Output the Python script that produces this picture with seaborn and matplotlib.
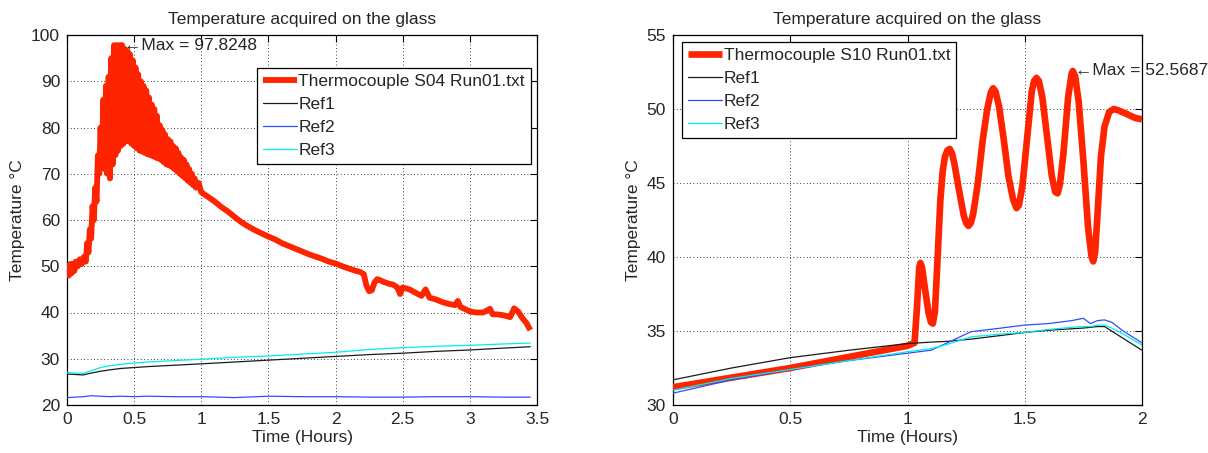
import matplotlib
matplotlib.use("Agg")
import matplotlib.pyplot as plt
import seaborn as sns
import pandas as pd

# ---------------- data ----------------
title_text = "Temperature acquired on the glass"
xlabel_text = "Time (Hours)"
ylabel_text = "Temperature °C"

# Left panel: Thermocouple S04
s04_time = [0.000, 0.005, 0.015, 0.025, 0.035, 0.045, 0.055, 0.065, 0.080, 0.095,
            0.110, 0.125, 0.140, 0.150, 0.160, 0.170, 0.180, 0.190, 0.200, 0.210,
            0.220, 0.230, 0.240, 0.250, 0.260, 0.270, 0.280, 0.290, 0.300, 0.310,
            0.320, 0.330, 0.340, 0.350, 0.360, 0.370, 0.380, 0.390, 0.400, 0.410,
            0.420, 0.430, 0.440, 0.450, 0.460, 0.470, 0.480, 0.490, 0.500, 0.510,
            0.520, 0.530, 0.540, 0.550, 0.560, 0.570, 0.580, 0.590, 0.600, 0.610,
            0.620, 0.630, 0.640, 0.650, 0.660, 0.670, 0.680, 0.690, 0.700, 0.710,
            0.720, 0.730, 0.740, 0.750, 0.760, 0.770, 0.780, 0.790, 0.800, 0.810,
            0.820, 0.830, 0.840, 0.850, 0.860, 0.870, 0.880, 0.890, 0.900, 0.910,
            0.920, 0.930, 0.940, 0.950, 0.960, 0.980, 1.000,
            1.05, 1.10, 1.15, 1.20, 1.25, 1.30, 1.35, 1.40, 1.45, 1.50, 1.55, 1.60,
            1.65, 1.70, 1.75, 1.80, 1.85, 1.90, 1.95, 2.00, 2.05, 2.10, 2.15, 2.18,
            2.21, 2.23, 2.25, 2.27, 2.29, 2.31, 2.33, 2.36, 2.40, 2.43, 2.46, 2.48,
            2.50, 2.55, 2.60, 2.64, 2.67, 2.70, 2.75, 2.80, 2.85, 2.89, 2.91, 2.93,
            2.96, 3.00, 3.05, 3.10, 3.15, 3.17, 3.20, 3.25, 3.30, 3.33, 3.36, 3.39,
            3.42, 3.45]
s04_temp = [47.5, 50.0, 48.0, 50.5, 48.5, 50.5, 49.0, 51.0, 50.0, 51.5,
            50.5, 52.0, 51.0, 55.0, 53.0, 58.0, 56.0, 63.0, 60.0, 67.0,
            64.0, 74.0, 70.0, 80.0, 72.0, 86.0, 71.0, 89.0, 70.0, 91.0,
            69.0, 95.0, 72.0, 97.8, 74.0, 97.8, 75.0, 97.8, 76.0, 97.8248,
            76.5, 97.0, 77.0, 96.5, 77.0, 95.8, 76.5, 94.5, 76.0, 93.0,
            75.5, 91.5, 75.0, 90.0, 74.8, 89.0, 74.5, 88.0, 74.2, 86.5,
            74.0, 85.0, 73.8, 84.0, 73.5, 82.5, 73.3, 80.5, 73.0, 79.5,
            72.5, 78.5, 72.0, 77.5, 71.8, 77.0, 71.5, 76.0, 71.0, 75.5,
            70.5, 74.5, 70.0, 73.5, 69.5, 73.0, 69.0, 72.0, 68.5, 71.0,
            68.0, 70.0, 67.5, 69.0, 67.0, 68.0, 66.0,
            65.0, 64.0, 62.8, 61.8, 60.6, 59.5, 58.6, 57.8, 57.1, 56.4, 55.8, 55.0,
            54.4, 53.8, 53.2, 52.6, 52.1, 51.6, 51.0, 50.6, 50.0, 49.5, 49.0, 48.8,
            48.3, 45.8, 44.6, 44.8, 46.5, 47.2, 47.0, 46.6, 46.2, 46.0, 45.4, 44.0,
            45.4, 45.0, 44.2, 43.6, 45.0, 43.2, 42.8, 42.2, 41.8, 41.6, 42.5, 41.2,
            40.8, 40.2, 40.0, 40.0, 40.8, 39.6, 39.6, 39.4, 39.0, 40.9, 40.2, 38.8,
            37.8, 36.2]

ref_l_time = [0.00, 0.06, 0.12, 0.18, 0.25, 0.32, 0.40, 0.50, 0.60, 0.80, 1.00,
              1.25, 1.50, 1.75, 2.00, 2.25, 2.50, 2.75, 3.00, 3.25, 3.45]
ref1_l = [26.7, 26.6, 26.5, 26.9, 27.3, 27.6, 27.9, 28.1, 28.3, 28.6, 28.9,
          29.3, 29.7, 30.1, 30.5, 30.9, 31.2, 31.6, 31.9, 32.3, 32.6]
ref2_l = [21.6, 21.7, 21.8, 22.0, 21.9, 21.8, 21.9, 21.8, 21.9, 21.8, 21.8,
          21.6, 21.9, 21.8, 21.8, 21.7, 21.7, 21.8, 21.8, 21.7, 21.7]
ref3_l = [27.0, 26.9, 26.8, 27.4, 28.1, 28.5, 28.8, 29.1, 29.3, 29.6, 29.9,
          30.3, 30.6, 31.0, 31.4, 32.0, 32.4, 32.7, 32.9, 33.2, 33.4]

# Right panel: Thermocouple S10
s10_time = [0.00, 0.25, 0.50, 0.75, 1.00, 1.03, 1.04, 1.05, 1.055, 1.062, 1.075,
            1.09, 1.10, 1.108, 1.117, 1.13, 1.14, 1.15, 1.16, 1.17, 1.18, 1.19,
            1.20, 1.22, 1.24, 1.25, 1.26, 1.27, 1.28, 1.30, 1.32, 1.34, 1.355,
            1.365, 1.375, 1.39, 1.41, 1.43, 1.45, 1.465, 1.475, 1.49, 1.51, 1.53,
            1.54, 1.55, 1.56, 1.575, 1.60, 1.615, 1.63, 1.64, 1.65, 1.665, 1.685,
            1.70, 1.705, 1.715, 1.73, 1.75, 1.77, 1.785, 1.792, 1.80, 1.81, 1.825,
            1.84, 1.86, 1.88, 1.90, 1.93, 1.97, 2.00]
s10_temp = [31.2, 31.85, 32.5, 33.25, 34.0, 34.2, 36.5, 39.3, 39.6, 39.3, 37.8,
            36.2, 35.6, 35.5, 36.3, 40.5, 43.8, 45.8, 46.8, 47.2, 47.3, 47.0,
            46.3, 44.5, 42.8, 42.3, 42.1, 42.3, 42.9, 45.0, 47.8, 50.0, 51.1,
            51.4, 51.2, 50.2, 48.0, 45.5, 43.9, 43.3, 43.5, 44.8, 48.0, 51.2,
            51.9, 52.1, 51.9, 50.8, 47.5, 45.5, 44.4, 44.3, 44.9, 47.0, 50.8,
            52.4, 52.5687, 52.2, 50.5, 46.5, 42.0, 40.0, 39.7, 40.3, 42.8, 46.8,
            48.8, 49.8, 50.0, 49.9, 49.7, 49.4, 49.3]

ref_r_time = [0.00, 0.25, 0.50, 0.75, 1.00, 1.05, 1.10, 1.17, 1.27, 1.40, 1.50,
              1.60, 1.70, 1.75, 1.78, 1.81, 1.84, 1.87, 1.92, 2.00]
ref1_r = [31.7, 32.5, 33.2, 33.7, 34.15, 34.2, 34.25, 34.3, 34.45, 34.7, 34.9,
          35.05, 35.15, 35.2, 35.25, 35.3, 35.3, 35.0, 34.5, 33.7]
ref2_r = [30.8, 31.7, 32.4, 33.0, 33.5, 33.6, 33.7, 34.2, 34.95, 35.2, 35.4,
          35.5, 35.7, 35.86, 35.5, 35.7, 35.75, 35.6, 35.0, 34.2]
ref3_r = [31.0, 31.8, 32.4, 33.0, 33.6, 33.7, 33.8, 34.1, 34.6, 34.8, 34.9,
          35.1, 35.25, 35.3, 35.3, 35.4, 35.4, 35.2, 34.8, 34.05]

left_label = "Thermocouple S04 Run01.txt"
right_label = "Thermocouple S10 Run01.txt"
ref_labels = ["Ref1", "Ref2", "Ref3"]

left_xticks = [0, 0.5, 1, 1.5, 2, 2.5, 3, 3.5]
left_xticklabels = ["0", "0.5", "1", "1.5", "2", "2.5", "3", "3.5"]
left_yticks = [20, 30, 40, 50, 60, 70, 80, 90, 100]
right_xticks = [0, 0.5, 1, 1.5, 2]
right_xticklabels = ["0", "0.5", "1", "1.5", "2"]
right_yticks = [30, 35, 40, 45, 50, 55]

left_max_text = "←Max = 97.8248"
right_max_text = "←Max = 52.5687"
left_max_pos = (0.425, 97.8248)
right_max_pos = (1.715, 52.5687)

# ---------------- styling ----------------
sns.set_theme(style="white")
FONT = ["Liberation Sans", "DejaVu Sans"]
plt.rcParams["font.family"] = FONT
plt.rcParams["font.size"] = 12.5
plt.rcParams["path.simplify"] = False

RED = "#ff2400"
BLACK = "#1a1a1a"
BLUE = "#2e4cff"
CYAN = "#00eeee"
TXT = "#262626"

fig = plt.figure(figsize=(12.08, 4.53), dpi=100)
W, H = 1208, 453
ax_l = fig.add_axes([67 / W, (H - 405) / H, 470 / W, 370 / H])
ax_r = fig.add_axes([673 / W, (H - 405) / H, 469 / W, 370 / H])


def draw(ax, t, v, lab, rt, r1, r2, r3, red_lw):
    df_main = pd.DataFrame({"t": t, "v": v})
    sns.lineplot(data=df_main, x="t", y="v", ax=ax, color=RED, lw=red_lw,
                 estimator=None, sort=False, label=lab, zorder=3,
                 solid_joinstyle="round", solid_capstyle="butt")
    df_ref = pd.DataFrame({"t": rt, "Ref1": r1, "Ref2": r2, "Ref3": r3})
    for name, col in zip(ref_labels, [BLACK, BLUE, CYAN]):
        sns.lineplot(data=df_ref, x="t", y=name, ax=ax, color=col, lw=0.9,
                     estimator=None, sort=False, label=name, zorder=4)


def style(ax, xt, xtl, yt, xlim, ylim):
    ax.set_xlim(*xlim)
    ax.set_ylim(*ylim)
    ax.set_xticks(xt)
    ax.set_xticklabels(xtl)
    ax.set_yticks(yt)
    ax.set_yticklabels([str(y) for y in yt])
    ax.tick_params(direction="in", length=5, width=0.8, top=True, right=True,
                   labelsize=12.5, pad=5, colors="black", labelcolor=TXT)
    for sp in ax.spines.values():
        sp.set_color("black")
        sp.set_linewidth(0.9)
        sp.set_visible(True)
    ax.grid(True, color="black", linestyle=(0, (1, 3)), linewidth=0.6)
    ax.set_axisbelow(True)
    ax.set_xlabel(xlabel_text, fontsize=12.5, color=TXT, labelpad=2)
    ax.set_ylabel(ylabel_text, fontsize=12.5, color=TXT, labelpad=4)
    ax.set_title(title_text, fontsize=12.5, color=TXT, pad=8)


draw(ax_l, s04_time, s04_temp, left_label, ref_l_time, ref1_l, ref2_l, ref3_l, 4.2)
draw(ax_r, s10_time, s10_temp, right_label, ref_r_time, ref1_r, ref2_r, ref3_r, 4.8)

style(ax_l, left_xticks, left_xticklabels, left_yticks, (0, 3.5), (20, 100))
style(ax_r, right_xticks, right_xticklabels, right_yticks, (0, 2), (30, 55))

leg_kw = dict(frameon=True, fancybox=False, edgecolor="black", framealpha=1,
              fontsize=12.5, handlelength=1.95, handletextpad=0.1,
              labelspacing=0.45, borderpad=0.35, borderaxespad=0)
leg_l = ax_l.legend(loc="upper right", bbox_to_anchor=(1 - 6 / 470, 1 - 33 / 370),
                    **leg_kw)
leg_r = ax_r.legend(loc="upper left", bbox_to_anchor=(9 / 469, 1 - 7 / 370),
                    **leg_kw)
for leg in (leg_l, leg_r):
    leg.get_frame().set_linewidth(0.9)
    for txt in leg.get_texts():
        txt.set_color(TXT)

ax_l.text(left_max_pos[0], left_max_pos[1], left_max_text, ha="left",
          va="center", fontsize=12.5, color=TXT, clip_on=False, zorder=6)
ax_r.text(right_max_pos[0], right_max_pos[1], right_max_text, ha="left",
          va="center", fontsize=12.5, color=TXT, clip_on=False, zorder=6)

fig.savefig("out.png", dpi=100)
